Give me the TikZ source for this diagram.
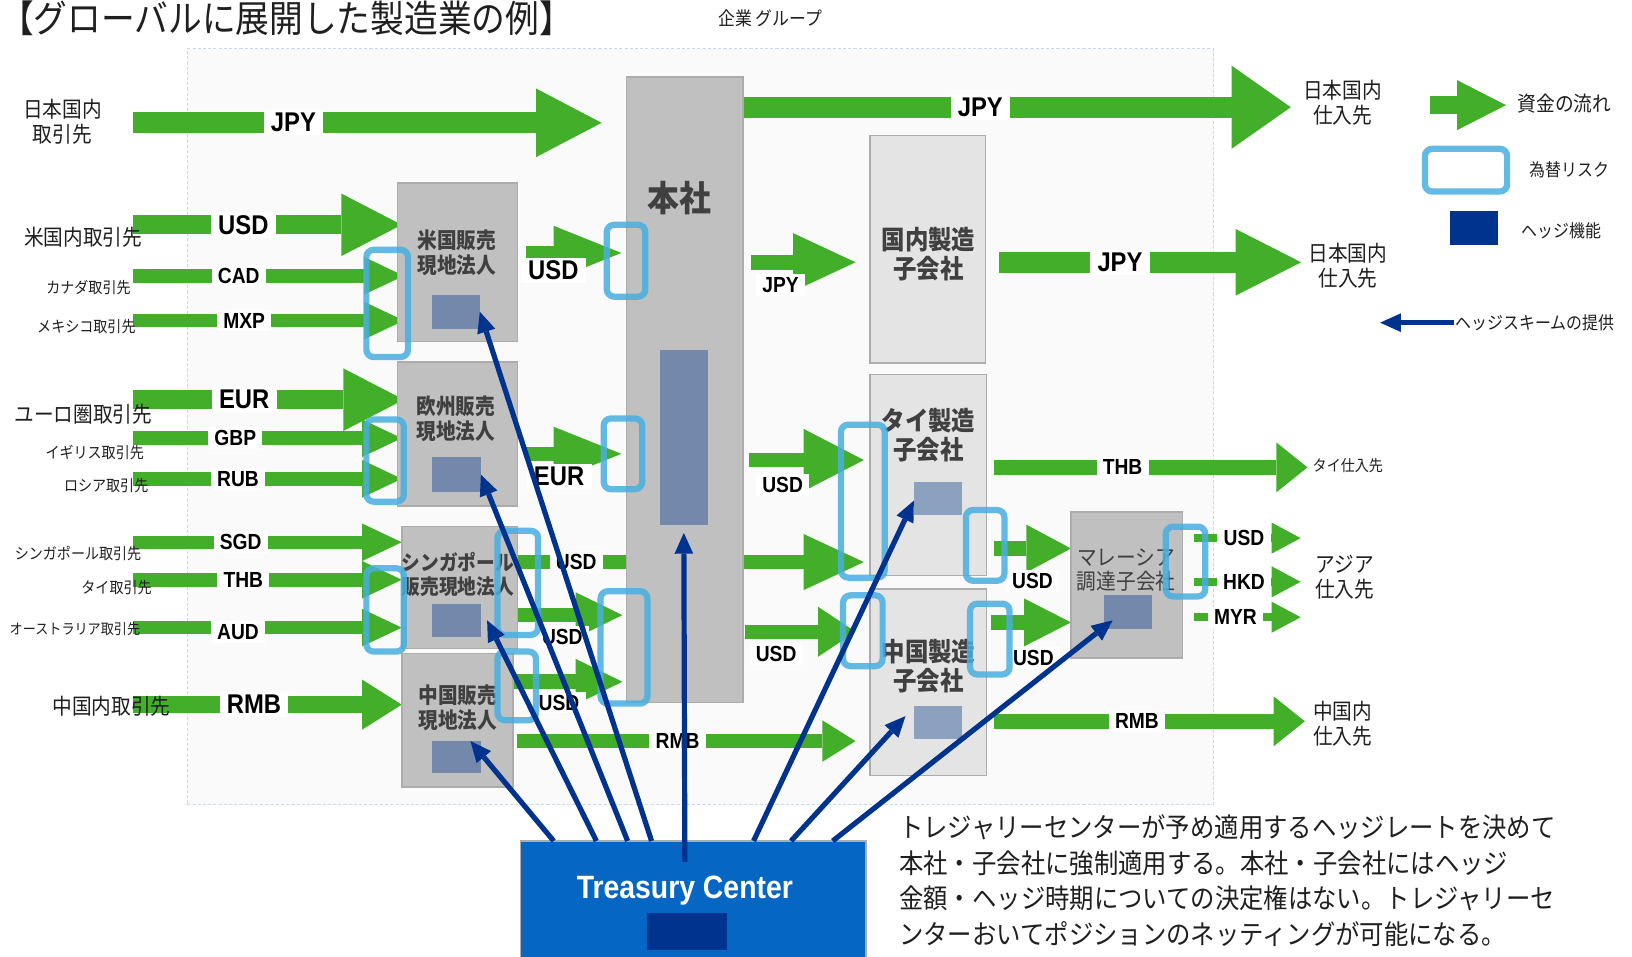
\documentclass[tikz,border=0pt]{standalone}
\usepackage{fontspec}
\setmainfont{Noto Sans CJK JP}[FakeStretch=0.9]
\newfontfamily\latinfont{Liberation Sans}[FakeStretch=0.88]
\usetikzlibrary{arrows.meta, positioning, calc}

\definecolor{flowgreen}{RGB}{66,174,42}
\definecolor{boxgray}{RGB}{192,192,192}
\definecolor{boxline}{RGB}{172,172,172}
\definecolor{mfgray}{RGB}{228,228,228}
\definecolor{hedgeblue}{RGB}{115,136,171}
\definecolor{hedgelight}{RGB}{140,160,192}
\definecolor{riskblue}{RGB}{72,174,224}
\definecolor{navy}{RGB}{0,51,141}
\definecolor{tcblue}{RGB}{5,102,196}
\definecolor{groupbg}{RGB}{250,250,250}
\definecolor{groupline}{RGB}{198,217,241}
\definecolor{boxtext}{RGB}{64,64,64}

\newcommand{\fsz}[2]{\fontsize{#1pt}{#2pt}\selectfont}

\pgfdeclarelayer{bg}
\pgfdeclarelayer{flows}
\pgfsetlayers{bg,flows,main}

\begin{document}
\begin{tikzpicture}[
  x=1pt, y=-1pt,
  every node/.style={inner sep=0pt, outer sep=0pt, text=black!88},
  grouparea/.style={rectangle, fill=groupbg, draw=groupline, line width=1pt,
                    dash pattern=on 3pt off 2pt, anchor=north west},
  salesbox/.style={rectangle, fill=boxgray, draw=boxline, line width=1.5pt, anchor=north west},
  mfgbox/.style={salesbox, fill=mfgray},
  boxtxt/.style={align=center, text=boxtext, font=\bfseries\fsz{21}{24}},
  mfgtxt/.style={align=center, text=boxtext, font=\bfseries\fsz{25}{28}},
  hedge/.style={rectangle, fill=hedgeblue, anchor=north west},
  risk/.style={draw=riskblue, line width=6pt, rounded corners=7pt, draw opacity=0.85},
  flow/.style n args={3}{draw=flowgreen, line width=#1pt,
                         -{Triangle[length=#2pt, width=#3pt, line width=0pt]}},
  cur/.style={fill=white, inner xsep=6pt, inner ysep=3pt, text=black,
              font=\latinfont\bfseries\fsz{21}{24}},
  bigcur/.style={cur, inner xsep=7pt, font=\latinfont\bfseries\fsz{26}{30}},
  hedgearrow/.style={draw=navy, line width=5pt,
                     -{Triangle[length=20pt, width=18pt, line width=0pt]}},
  party/.style={align=center, font=\fsz{21}{24}},
  smallparty/.style={font=\fsz{15}{18}},
  legtxt/.style={font=\fsz{17}{20}},
]
\useasboundingbox (0,0) rectangle (1568,919);

% Group area
\begin{pgfonlayer}{bg}
\node[grouparea, minimum width=986pt, minimum height=726pt] (grp) at (180,47) {};
\end{pgfonlayer}

% Title
\node[anchor=west, font=\fsz{36}{40}] (title) at (0,18) {【グローバルに展開した製造業の例】};
\node[font=\fsz{18}{21}] (grpT) at (740,18) {企業\ グループ};

% Customers
\node[party] (jpc) at (60,117) {日本国内\\取引先};
\node[party] (usc) at (80,228) {米国内取引先};
\node[smallparty] (cac) at (85,276) {カナダ取引先};
\node[smallparty] (mxc) at (83,314) {メキシコ取引先};
\node[party] (euc) at (80,398) {ユーロ圏取引先};
\node[smallparty] (gbc) at (91,435) {イギリス取引先};
\node[smallparty] (ruc) at (102,467) {ロシア取引先};
\node[smallparty] (sgc) at (75,532) {シンガポール取引先};
\node[smallparty] (thc) at (112,565) {タイ取引先};
\node[smallparty, font=\fsz{14}{17}] (auc) at (72,604) {オーストラリア取引先};
\node[party] (cnc) at (107,679) {中国内取引先};

% Sales subsidiaries
\node[salesbox, minimum width=115pt, minimum height=152pt] (usa) at (382,176) {};
\node[salesbox, minimum width=115pt, minimum height=138pt] (eur) at (382,348) {};
\node[salesbox, minimum width=111pt, minimum height=117pt] (sgp) at (386,506) {};
\node[salesbox, minimum width=107pt, minimum height=128pt] (chn) at (386,628) {};
\node[boxtxt] (usaT) at (439,243) {米国販売\\現地法人};
\node[boxtxt] (eurT) at (438,402) {欧州販売\\現地法人};
\node[boxtxt, font=\bfseries\fsz{20}{23}] (sgpT) at (440,552) {シンガポール\\販売現地法人};
\node[boxtxt] (chnT) at (440,680) {中国販売\\現地法人};

% Head office
\node[salesbox, minimum width=112pt, minimum height=601pt] (hq) at (602,74) {};
\node[text=boxtext, font=\bfseries\fsz{34}{38}] (hqT) at (653,190) {本社};

% Manufacturing / procurement subsidiaries
\node[mfgbox, minimum width=111pt, minimum height=219pt] (dom) at (836,130) {};
\node[mfgbox, minimum width=112pt, minimum height=193pt] (tha) at (836,360) {};
\node[mfgbox, minimum width=112pt, minimum height=179pt] (cmf) at (836,566) {};
\node[salesbox, minimum width=107pt, minimum height=140pt] (mys) at (1029,492) {};
\node[mfgtxt] (domT) at (892,244) {国内製造\\子会社};
\node[mfgtxt] (thaT) at (892,418) {タイ製造\\子会社};
\node[mfgtxt] (cmfT) at (892,640) {中国製造\\子会社};
\node[align=center, text=boxtext, font=\fsz{21}{23}] (mysT) at (1082,548) {マレーシア\\調達子会社};

% Hedge functions
\node[hedge, minimum width=46pt, minimum height=33pt] (usaH) at (415,283) {};
\node[hedge, minimum width=47pt, minimum height=34pt] (eurH) at (415,439) {};
\node[hedge, minimum width=47pt, minimum height=32pt] (sgpH) at (415,580) {};
\node[hedge, minimum width=47pt, minimum height=31pt] (chnH) at (415,712) {};
\node[hedge, minimum width=46pt, minimum height=168pt] (hqH) at (634,336) {};
\node[hedge, fill=hedgelight, minimum width=46pt, minimum height=32pt] (thaH) at (878,463) {};
\node[hedge, fill=hedgelight, minimum width=46pt, minimum height=32pt] (cmfH) at (878,678) {};
\node[hedge, minimum width=46pt, minimum height=32pt] (mysH) at (1061,572) {};

% Suppliers
\node[party] (jps1) at (1290,99) {日本国内\\仕入先};
\node[party] (jps2) at (1295,255) {日本国内\\仕入先};
\node[smallparty] (thsup) at (1295,447) {タイ仕入先};
\node[party] (asia) at (1292,555) {アジア\\仕入先};
\node[party] (cnsup) at (1290,695) {中国内\\仕入先};

% Legend
\node[font=\fsz{20}{23}] (legFlow) at (1503,100) {資金の流れ};
\node[legtxt] (legRisk) at (1508,163) {為替リスク};
\node[hedge, fill=navy, minimum width=46pt, minimum height=32pt] (legHedge) at (1393,203) {};
\node[legtxt] (legHedgeT) at (1500,222) {ヘッジ機能};
\node[legtxt] (legHs) at (1475,310) {ヘッジスキームの提供};

% Money flows
\begin{pgfonlayer}{flows}
\foreach \n/\y in {jp/118, us/216, ca/265, mx/308, eu/384, gb/421, ru/460, sg/521, th/557, au/603, cn/677}
  \coordinate (in-\n) at (128,\y);
\foreach \n/\x/\y in {us-hq/505/243, eu-hq/505/436, sg-th/497/540, sg-hq/493/591, cn-hq/493/655,
                      cn-cmf/497/712, hq-dom/722/252, hq-tha/720/442, hq-cmf/716/607, hq-out/714/103,
                      dom-out/960/252, tha-out/955/449, tha-mys/955/527, cmf-mys/952/598, cmf-out/955/693,
                      mys-usd/1147/517, mys-hkd/1147/559, mys-myr/1147/593, leg-in/1374/101, leg-hs/1326/310}
  \coordinate (\n) at (\x,\y);

\draw[flow={20}{63}{66}] (in-jp) -- ([xshift=-24pt]hq.west |- in-jp) node[bigcur, pos=.342] {JPY};
\draw[flow={18}{58}{60}] (in-us) -- ([xshift=4pt]usa.west |- in-us) node[bigcur, pos=.41] {USD};
\draw[flow={13}{38}{36}] (in-ca) -- ([xshift=6pt]usa.west |- in-ca) node[cur, pos=.39] {CAD};
\draw[flow={13}{38}{36}] (in-mx) -- ([xshift=6pt]usa.west |- in-mx) node[cur, pos=.41] {MXP};
\draw[flow={18}{58}{60}] (in-eu) -- ([xshift=6pt]eur.west |- in-eu) node[bigcur, pos=.41] {EUR};
\draw[flow={13}{38}{36}] (in-gb) -- ([xshift=4pt]eur.west |- in-gb) node[cur, pos=.38] {GBP};
\draw[flow={13}{38}{36}] (in-ru) -- ([xshift=4pt]eur.west |- in-ru) node[cur, pos=.39] {RUB};
\draw[flow={13}{38}{36}] (in-sg) -- (sgp.west |- in-sg) node[cur, pos=.40] {SGD};
\draw[flow={13}{38}{36}] (in-th) -- (sgp.west |- in-th) node[cur, pos=.41] {THB};
\draw[flow={13}{38}{36}] (in-au) -- (sgp.west |- in-au) node[cur, pos=.39, yshift=-4pt] {AUD};
\draw[flow={16}{38}{48}] (in-cn) -- (chn.west |- in-cn) node[bigcur, pos=.45] {RMB};

\draw[flow={14}{65}{52}] (us-hq) -- ([xshift=-5pt]hq.west |- us-hq) node[bigcur, pos=.29, yshift=-17pt] {USD};
\draw[flow={14}{65}{52}] (eu-hq) -- ([xshift=-5pt]hq.west |- eu-hq) node[bigcur, pos=.35, yshift=-22pt] {EUR};
\draw[flow={14}{58}{54}] (sg-th) -- ([xshift=-6pt]tha.west |- sg-th) node[cur, pos=.17] {USD};
\draw[flow={14}{45}{44}] (sg-hq) -- ([xshift=-4pt]hq.west |- sg-hq) node[cur, pos=.45, yshift=-21pt] {USD};
\draw[flow={14}{45}{44}] (cn-hq) -- ([xshift=-4pt]hq.west |- cn-hq) node[cur, pos=.42, yshift=-20pt] {USD};
\draw[flow={13}{32}{40}] (cn-cmf) -- ([xshift=-14pt]cmf.west |- cn-cmf) node[cur, pos=.474] {RMB};

\draw[flow={14}{60}{56}] (hq-dom) -- ([xshift=-14pt]dom.west |- hq-dom) node[cur, pos=.28, yshift=-22pt] {JPY};
\draw[flow={14}{58}{60}] (hq-tha) -- ([xshift=-6pt]tha.west |- hq-tha) node[cur, pos=.29, yshift=-24pt] {USD};
\draw[flow={14}{36}{48}] (hq-cmf) -- ([xshift=-14pt]cmf.west |- hq-cmf) node[cur, pos=.28, yshift=-21pt] {USD};
\draw[flow={20}{57}{80}] (hq-out) -- ([xshift=-12pt]jps1.west |- hq-out) node[bigcur, pos=.433] {JPY};
\draw[flow={20}{63}{64}] (dom-out) -- ([xshift=-7pt]jps2.west |- dom-out) node[bigcur, pos=.40] {JPY};

\draw[flow={14}{30}{48}] (tha-out) -- ([xshift=-5pt]thsup.west |- tha-out) node[cur, pos=.41] {THB};
\draw[flow={14}{43}{46}] (tha-mys) -- (mys.west |- tha-mys) node[cur, pos=.5, yshift=-31pt] {USD};
\draw[flow={14}{45}{46}] (cmf-mys) -- (mys.west |- cmf-mys) node[cur, pos=.53, yshift=-34pt] {USD};
\draw[flow={14}{30}{48}] (cmf-out) -- ([xshift=-8pt]cnsup.west |- cmf-out) node[cur, pos=.46] {RMB};

\draw[flow={8}{28}{30}] (mys-usd) -- ([xshift=-14pt]asia.west |- mys-usd) node[cur, pos=.47] {USD};
\draw[flow={8}{28}{30}] (mys-hkd) -- ([xshift=-14pt]asia.west |- mys-hkd) node[cur, pos=.47] {HKD};
\draw[flow={8}{28}{30}] (mys-myr) -- ([xshift=-14pt]asia.west |- mys-myr) node[cur, pos=.39] {MYR};

\draw[flow={18}{47}{48}] (leg-in) -- ([xshift=-11pt]legFlow.west |- leg-in);
\end{pgfonlayer}

% FX risk frames
\foreach \x/\y/\w/\h in {352/240/40/103, 352/403/36/79, 352/546/36/80, 478/510/39/100,
                         478/626/37/66, 583/216/37/69, 580/402/37/68, 577/568/45/108,
                         808/408/42/147, 810/572/38/68, 928/490/37/68, 932/580/38/68,
                         1120/506/38/67, 1369/143/79/41}
  \draw[risk] (\x,\y) rectangle ++(\w,\h);

% Treasury Center
\node[salesbox, fill=tcblue, minimum width=332pt, minimum height=120pt] (tc) at (500,808) {};
\node[text=white, font=\latinfont\bfseries\fsz{31}{34}] (tcT) at (658,856) {Treasury Center};
\node[hedge, fill=navy, minimum width=76pt, minimum height=36pt] (tcH) at (622,877) {};

% Hedge schemes
\draw[hedgearrow] ([xshift=-134pt]tc.north) -- ([xshift=-10pt]chnH.north east);
\draw[hedgearrow] ([xshift=-93pt]tc.north) -- ([xshift=6pt]sgpH.east);
\draw[hedgearrow] ([xshift=-63pt]tc.north) -- (eurH.east);
\draw[hedgearrow] ([xshift=-40pt]tc.north) -- (usaH.east);
\draw[hedgearrow] ([xshift=-8pt, yshift=-20pt]tc.north) -- ([yshift=-8pt]hqH.south);
\draw[hedgearrow] ([xshift=58pt]tc.north) -- ([yshift=14pt]thaH.south west);
\draw[hedgearrow] ([xshift=94pt]tc.north) -- ([xshift=-8pt, yshift=-10pt]cmfH.north west);
\draw[hedgearrow] ([xshift=134pt]tc.north) -- ([xshift=8pt, yshift=8pt]mysH.south west);
\draw[hedgearrow] ([xshift=-2pt]legHs.west) -- (leg-hs);

% Note
\node[anchor=north west, align=left, font=\fsz{26}{34}] (note) at (864,783)
  {トレジャリーセンターが予め適用するヘッジレートを決めて\\
   本社・子会社に強制適用する。本社・子会社にはヘッジ\\
   金額・ヘッジ時期についての決定権はない。トレジャリーセ\\
   ンターおいてポジションのネッティングが可能になる。};

\end{tikzpicture}
\end{document}
